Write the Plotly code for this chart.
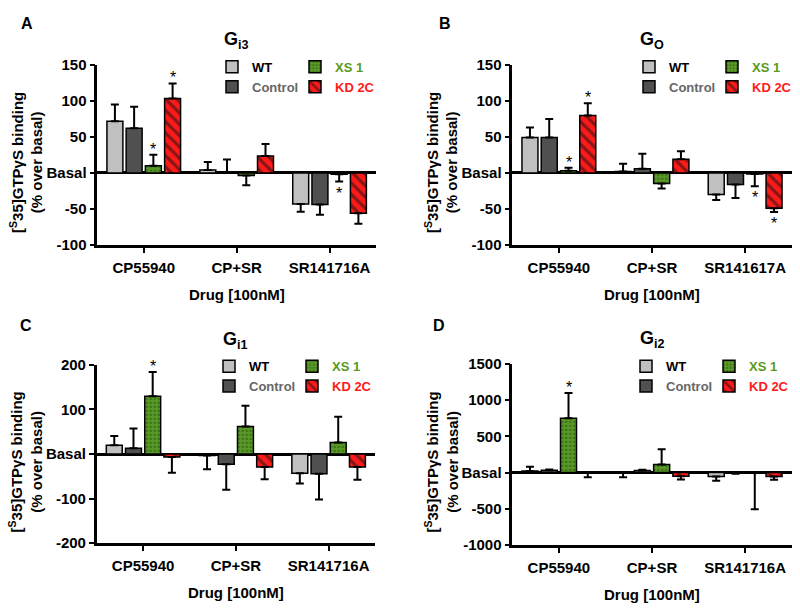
import plotly.graph_objects as go

# ---- data ----
series = ["WT", "Control", "XS 1", "KD 2C"]
drugs_a = ["CP55940", "CP+SR", "SR141716A"]
drugs_b = ["CP55940", "CP+SR", "SR141617A"]

# rows follow `series`, columns follow the drugs
gi3_mean = [[71.5, 4.0, -43.0], [62.0, 0.5, -44.0], [10.0, -3.6, -2.0], [103.0, 23.4, -56.0]]
gi3_sem = [[23.4, 11.0, 11.0], [29.7, 18.0, 14.0], [15.0, 13.5, 10.0], [21.0, 16.6, 14.4]]
gi3_stars = [(0, 2), (0, 3), (2, 2)]

go_mean = [[49.0, 1.8, -30.0], [49.0, 5.8, -16.0], [3.0, -14.8, -1.5], [79.6, 18.9, -49.0]]
go_sem = [[14.0, 11.0, 7.6], [25.6, 20.7, 19.0], [4.0, 6.8, 17.0], [17.0, 11.0, 5.4]]
go_stars = [(0, 2), (0, 3), (2, 2), (2, 3)]

gi1_mean = [[19.6, -3.6, -43.0], [13.0, -23.0, -44.4], [129.5, 61.8, 26.0], [-6.5, -29.0, -29.0]]
gi1_sem = [[21.0, 30.5, 23.0], [44.0, 57.0, 58.0], [54.5, 46.5, 57.5], [35.5, 27.6, 29.0]]
gi1_stars = [(0, 2)]

gi2_mean = [[22.0, -3.0, -54.0], [32.0, 30.0, -10.0], [751.0, 112.0, -5.0], [-3.0, -49.0, -54.0]]
gi2_sem = [[58.0, 60.0, 58.0], [10.0, 10.0, 5.0], [349.0, 210.0, 500.0], [60.0, 45.0, 44.0]]
gi2_stars = [(0, 2)]

ticks_ab = [150, 100, 50, 0, -50, -100]
ticks_c = [200, 100, 0, -100, -200]
ticks_d = [1500, 1000, 500, 0, -500, -1000]

# ---- styling ----
FONT = "Liberation Sans, Arial, sans-serif"
W, H = 800, 615
BARGAP = 0.172
GROUPGAP = 0.17

fills = {
    "WT": dict(color="#c0c0c0"),
    "Control": dict(color="#505050"),
    "XS 1": dict(color="#5a9a28", pattern=dict(shape=".", fgcolor="#1f4a08", bgcolor="#5a9a28",
                                                size=4, solidity=0.35)),
    "KD 2C": dict(color="#ff1a1a", pattern=dict(shape="\\", fgcolor="#111111", bgcolor="#ff1a1a",
                                                 size=8, solidity=0.4)),
}
name_colors = {"WT": "#000000", "Control": "#666666", "XS 1": "#5a9a1a", "KD 2C": "#ff1a1a"}


def px_x(p):
    return p / W


def px_y(p):
    return 1 - p / H


panels = [
    dict(letter="A", title="G<sub>i3</sub>", drugs=drugs_a, mean=gi3_mean, sem=gi3_sem, stars=gi3_stars,
         ticks=ticks_ab, yrange=[-100, 150], x0=97.3, x1=376, y0=57.3, y1=242.7,
         leg=(212, 295, 44), letter_xy=(27, 15)),
    dict(letter="B", title="G<sub>O</sub>", drugs=drugs_b, mean=go_mean, sem=go_sem, stars=go_stars,
         ticks=ticks_ab, yrange=[-100, 150], x0=512.3, x1=791.7, y0=57.3, y1=242.7,
         leg=(629, 712, 44), letter_xy=(445, 15)),
    dict(letter="C", title="G<sub>i1</sub>", drugs=drugs_a, mean=gi1_mean, sem=gi1_sem, stars=gi1_stars,
         ticks=ticks_c, yrange=[-200, 200], x0=96.7, x1=375, y0=366, y1=549.3,
         leg=(209, 292, 352), letter_xy=(26, 325)),
    dict(letter="D", title="G<sub>i2</sub>", drugs=drugs_a, mean=gi2_mean, sem=gi2_sem, stars=gi2_stars,
         ticks=ticks_d, yrange=[-1000, 1500], x0=512.3, x1=791.7, y0=365, y1=551.3,
         leg=(626, 709, 352), letter_xy=(439, 325)),
]

fig = go.Figure()
annotations = []
layout_axes = {}
legends = {}
slot = (1 - BARGAP) / 4


def paper_text(x, y, text, size, **kw):
    return dict(x=px_x(x), y=px_y(y), xref="paper", yref="paper", text=text, showarrow=False,
                xanchor="center", yanchor="middle",
                font=dict(family=FONT, size=size, color="black", weight="bold"), **kw)


for i, p in enumerate(panels):
    n = i + 1
    xa = "x" if n == 1 else f"x{n}"
    ya = "y" if n == 1 else f"y{n}"
    leg_a = "legend" if 2 * i == 0 else f"legend{2 * i + 1}"
    leg_b = f"legend{2 * i + 2}"

    for s, sname in enumerate(series):
        vals = p["mean"][s]
        errs = p["sem"][s]
        up = [e if v >= 0 else 0 for v, e in zip(vals, errs)]
        down = [0 if v >= 0 else e for v, e in zip(vals, errs)]
        fig.add_trace(go.Bar(
            x=p["drugs"], y=vals, xaxis=xa, yaxis=ya,
            name=f"<span style='color:{name_colors[sname]}'>{sname}</span>",
            legend=leg_a if s < 2 else leg_b,
            marker=dict(line=dict(color="black", width=1.5), **fills[sname]),
            error_y=dict(type="data", symmetric=False, array=up, arrayminus=down,
                         color="black", thickness=2, width=4),
            hoverinfo="skip",
        ))

    # significance stars
    for (c, s) in p["stars"]:
        v = p["mean"][s][c]
        e = p["sem"][s][c]
        tip = v + e if v >= 0 else v - e
        annotations.append(dict(
            x=c + (s - 1.5) * slot, y=tip, xref=xa, yref=ya, text="*", showarrow=False,
            font=dict(family=FONT, size=16, color="black"), xanchor="center",
            yanchor="bottom" if v >= 0 else "top", yshift=-5 if v >= 0 else -1,
        ))

    xdom = [px_x(p["x0"]), px_x(p["x1"])]
    ydom = [px_y(p["y1"]), px_y(p["y0"])]
    axis_common = dict(showline=True, linecolor="black", linewidth=2.5, ticks="outside",
                       ticklen=5, tickwidth=2, tickcolor="black", showgrid=False,
                       tickfont=dict(family=FONT, size=15, color="black", weight="bold"))
    layout_axes["xaxis" if n == 1 else f"xaxis{n}"] = dict(
        domain=xdom, anchor=ya, range=[-0.5, 2.5], zeroline=False, ticklabelstandoff=2,
        **axis_common)
    layout_axes["yaxis" if n == 1 else f"yaxis{n}"] = dict(
        domain=ydom, anchor=xa, range=p["yrange"], tickvals=p["ticks"],
        ticktext=["Basal" if t == 0 else str(t) for t in p["ticks"]],
        zeroline=True, zerolinecolor="black", zerolinewidth=2.5, **axis_common)

    lx1, lx2, ly = p["leg"]
    for name, lx in ((leg_a, lx1), (leg_b, lx2)):
        legends[name] = dict(x=px_x(lx), y=px_y(ly), xanchor="left", yanchor="top",
                             bgcolor="rgba(0,0,0,0)", tracegroupgap=0,
                             font=dict(family=FONT, size=13, weight="bold"))

    cx = (p["x0"] + p["x1"]) / 2
    annotations += [
        paper_text(cx, p["y0"] - 25, p["title"], 18),
        paper_text(cx, p["y1"] + 51, "Drug [100nM]", 15),
        paper_text(p["x0"] - 71, (p["y0"] + p["y1"]) / 2 + 8,
                   "[<sup>S</sup>35]GTPγS binding<br>(% over basal)", 15, textangle=-90),
        paper_text(p["letter_xy"][0], p["letter_xy"][1], p["letter"], 16),
    ]

fig.update_layout(
    width=W, height=H,
    margin=dict(l=0, r=0, t=0, b=0),
    paper_bgcolor="white", plot_bgcolor="white",
    barmode="group", bargap=BARGAP, bargroupgap=GROUPGAP,
    font=dict(family=FONT, color="black"),
    annotations=annotations,
    **layout_axes,
    **legends,
)

# the page's default 8px body margin would shift the whole figure
fig.write_html("out.html", config={"displayModeBar": False},
               post_script="document.body.style.margin='0';")
